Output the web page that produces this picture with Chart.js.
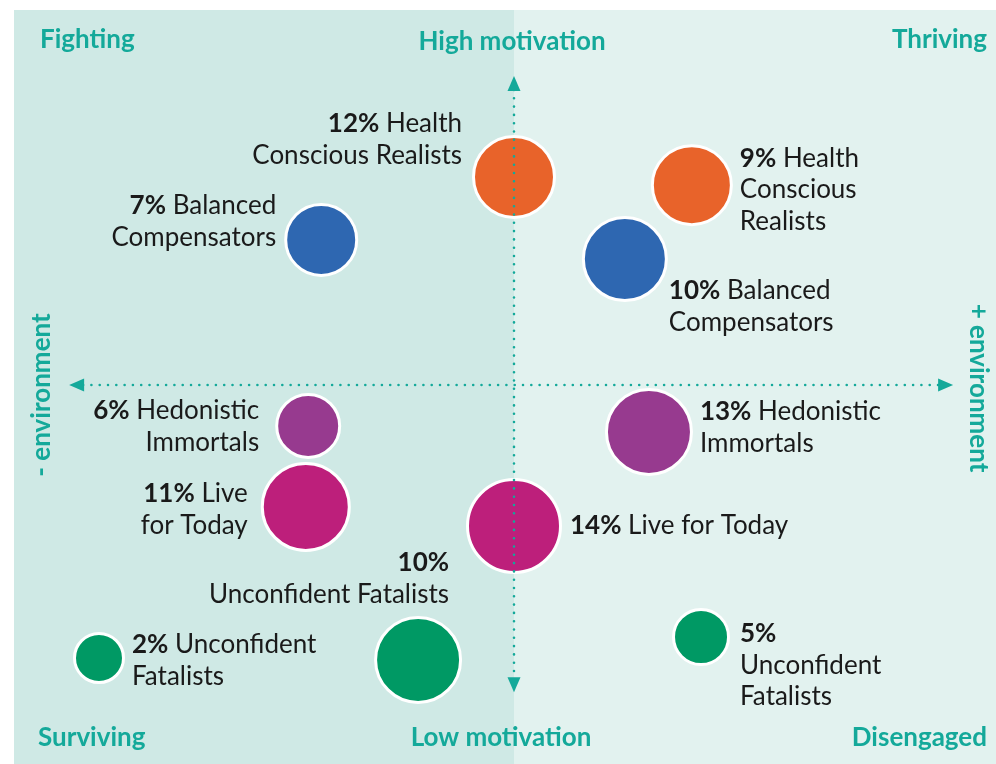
<!DOCTYPE html>
<html>
<head>
<meta charset="utf-8">
<script src="https://cdn.jsdelivr.net/npm/chart.js@4/dist/chart.umd.min.js"></script>
<style>
  body { margin: 0; background: #ffffff; }
  #wrap { width: 996px; height: 764px; }
</style>
</head>
<body>
<div id="wrap"><canvas id="quadChart" width="996" height="764"></canvas></div>
<script>
// segment data, one entry per bubble
const groups = [
  "Health Conscious Realists", "Health Conscious Realists",
  "Balanced Compensators", "Balanced Compensators",
  "Hedonistic Immortals", "Hedonistic Immortals",
  "Live for Today", "Live for Today",
  "Unconfident Fatalists", "Unconfident Fatalists", "Unconfident Fatalists"
];
const shares = [12, 9, 7, 10, 6, 13, 11, 14, 2, 10, 5];
const environment = [0, 3.69, -4.0, 2.3, -4.27, 2.8, -4.32, 0, -8.61, -1.99, 3.88];
const motivation = [5.55, 5.33, 3.87, 3.36, -1.09, -1.25, -3.25, -3.76, -7.28, -7.33, -6.72];
const bubbleSize = [40.5, 39.5, 35.5, 41.5, 31.5, 42.5, 43.5, 46.5, 24.5, 42.5, 27.5];

const quadrantLabels = ["Fighting", "Thriving", "Surviving", "Disengaged"];
const axisLabels = ["High motivation", "Low motivation", "- environment", "+ environment"];

const groupColors = {
  "Health Conscious Realists": "#e8632a",
  "Balanced Compensators": "#2e67b1",
  "Hedonistic Immortals": "#973a8f",
  "Live for Today": "#bd1f7b",
  "Unconfident Fatalists": "#009964"
};

// where each label sits relative to its bubble (px), and words per line
const labelLayout = [
  { dx: -52, dy: -53, align: "right", wrap: [1, 2] },
  { dx: 48, dy: -27, align: "left", wrap: [1, 1, 1] },
  { dx: -45, dy: -34, align: "right", wrap: [1, 1] },
  { dx: 44, dy: 32, align: "left", wrap: [1, 1] },
  { dx: -49, dy: -15, align: "right", wrap: [1, 1] },
  { dx: 51, dy: -20, align: "left", wrap: [1, 1] },
  { dx: -58, dy: -13, align: "right", wrap: [1, 2] },
  { dx: 56, dy: 0, align: "left", wrap: [3] },
  { dx: 33, dy: -13, align: "left", wrap: [1, 1] },
  { dx: 31, dy: -97, align: "right", wrap: [0, 2] },
  { dx: 39, dy: -3, align: "left", wrap: [0, 1, 1] }
];

const TEAL = "#14a99a";
const FONT = "Lato, 'Open Sans', sans-serif";
const SIZE = 26;
const LINE = 31.5;

const points = shares.map((s, i) => ({ x: environment[i], y: motivation[i], r: bubbleSize[i] }));

const backdrop = {
  id: "backdrop",
  beforeDraw(chart) {
    const ctx = chart.ctx;
    ctx.save();
    ctx.fillStyle = "#cfe9e5";
    ctx.fillRect(14, 10, 500, 754);
    ctx.fillStyle = "#e2f2ef";
    ctx.fillRect(514, 10, 482, 754);
    ctx.restore();
  }
};

function dottedArrow(ctx, x1, y1, x2, y2) {
  ctx.beginPath();
  ctx.moveTo(x1, y1);
  ctx.lineTo(x2, y2);
  ctx.stroke();
}

function head(ctx, x, y, ang) {
  ctx.save();
  ctx.translate(x, y);
  ctx.rotate(ang);
  ctx.beginPath();
  ctx.moveTo(0, 0);
  ctx.lineTo(-15, -6.5);
  ctx.lineTo(-15, 6.5);
  ctx.closePath();
  ctx.fill();
  ctx.restore();
}

const overlay = {
  id: "overlay",
  afterDatasetsDraw(chart) {
    const ctx = chart.ctx;
    const xs = chart.scales.x, ys = chart.scales.y;
    const cx = xs.getPixelForValue(0), cy = ys.getPixelForValue(0);
    const top = ys.getPixelForValue(8.24), bottom = ys.getPixelForValue(-8.19);
    const left = xs.getPixelForValue(-9.23), right = xs.getPixelForValue(9.11);

    ctx.save();
    ctx.strokeStyle = TEAL;
    ctx.fillStyle = TEAL;
    ctx.lineWidth = 2.6;
    ctx.lineCap = "round";
    ctx.setLineDash([0, 8.3]);
    dottedArrow(ctx, cx, top + 14, cx, bottom - 14);
    dottedArrow(ctx, left + 14, cy, right - 14, cy);
    ctx.setLineDash([]);
    head(ctx, cx, top, -Math.PI / 2);
    head(ctx, cx, bottom, Math.PI / 2);
    head(ctx, left, cy, Math.PI);
    head(ctx, right, cy, 0);

    // quadrant and axis titles
    ctx.font = "bold " + SIZE + "px " + FONT;
    ctx.textBaseline = "alphabetic";
    ctx.textAlign = "left";
    ctx.fillText(quadrantLabels[0], 40, 48);
    ctx.fillText(quadrantLabels[2], 38, 746);
    ctx.textAlign = "right";
    ctx.fillText(quadrantLabels[1], 987, 48);
    ctx.fillText(quadrantLabels[3], 987, 746);
    ctx.textAlign = "center";
    ctx.fillText(axisLabels[0], 512, 50);
    ctx.fillText(axisLabels[1], 501, 746);

    ctx.save();
    ctx.translate(42, 395);
    ctx.rotate(-Math.PI / 2);
    ctx.textBaseline = "middle";
    ctx.fillText(axisLabels[2], 0, 0);
    ctx.restore();
    ctx.save();
    ctx.translate(978, 388);
    ctx.rotate(Math.PI / 2);
    ctx.textBaseline = "middle";
    ctx.fillText(axisLabels[3], 0, 0);
    ctx.restore();

    // bubble labels
    ctx.fillStyle = "#1a1a1a";
    ctx.textAlign = "left";
    ctx.textBaseline = "middle";
    const bold = "bold " + SIZE + "px " + FONT;
    const reg = SIZE + "px " + FONT;
    chart.getDatasetMeta(0).data.forEach((el, i) => {
      const lay = labelLayout[i];
      const words = groups[i].split(" ");
      let k = 0;
      lay.wrap.forEach((n, li) => {
        const txt = words.slice(k, k + n).join(" ");
        k += n;
        const y = el.y + lay.dy + li * LINE;
        const pct = li === 0 ? shares[i] + "%" : "";
        ctx.font = bold;
        const pw = pct ? ctx.measureText(pct).width : 0;
        ctx.font = reg;
        const gap = pct && txt ? ctx.measureText(" ").width : 0;
        const tw = ctx.measureText(txt).width;
        const total = pw + gap + tw;
        let x = el.x + lay.dx;
        if (lay.align === "right") x -= total;
        if (pct) {
          ctx.font = bold;
          ctx.fillText(pct, x, y);
        }
        ctx.font = reg;
        ctx.fillText(txt, x + pw + gap, y);
      });
    });
    ctx.restore();
  }
};

new Chart(document.getElementById("quadChart"), {
  type: "bubble",
  data: {
    datasets: [{
      data: points,
      backgroundColor: groups.map(g => groupColors[g]),
      borderColor: "#ffffff",
      borderWidth: 3,
      hoverBorderWidth: 3,
      clip: false
    }]
  },
  options: {
    responsive: false,
    devicePixelRatio: 1,
    animation: false,
    layout: { autoPadding: false, padding: { left: 32, top: 10, right: 0, bottom: 4 } },
    scales: {
      x: { type: "linear", min: -10, max: 10, display: false },
      y: { type: "linear", min: -10, max: 10, display: false }
    },
    plugins: {
      legend: { display: false },
      tooltip: { enabled: false }
    }
  },
  plugins: [backdrop, overlay]
});
</script>
</body>
</html>
